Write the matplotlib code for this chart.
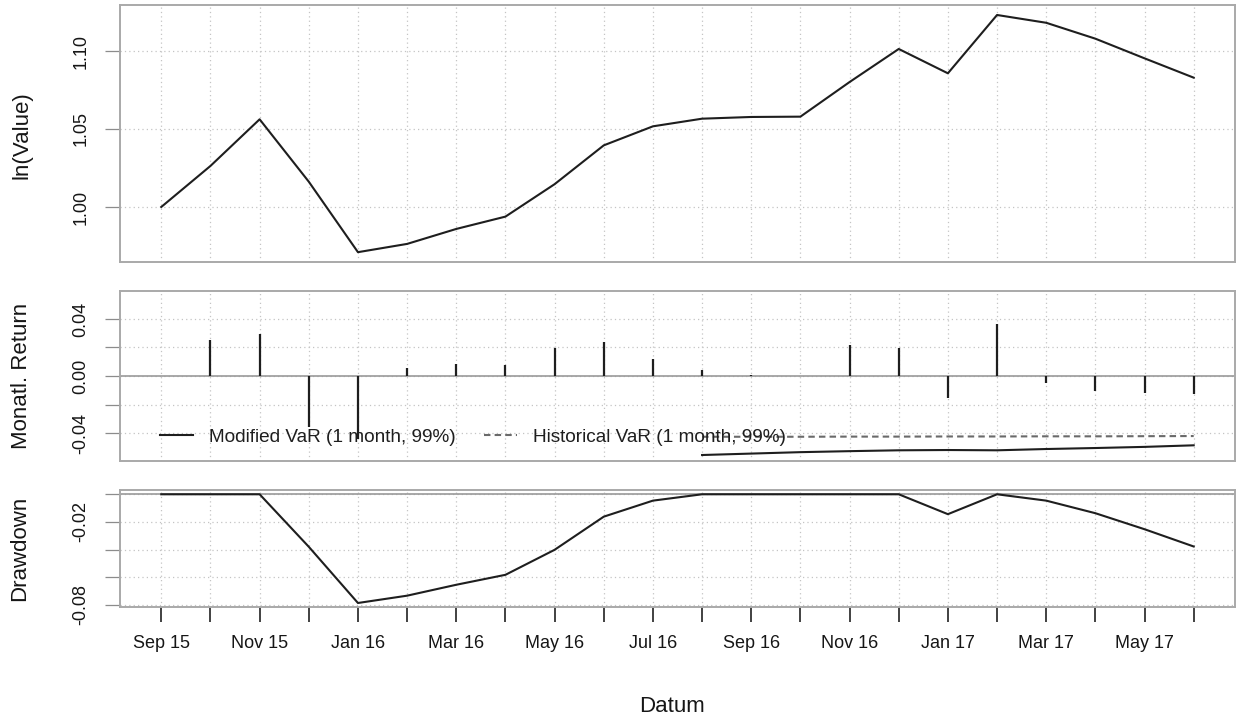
import matplotlib
matplotlib.use("Agg")
import matplotlib.pyplot as plt
import numpy as np

plt.rcParams['font.family'] = ['Liberation Sans', 'DejaVu Sans']

# ---- data -------------------------------------------------------------
months = ["Sep 15", "Oct 15", "Nov 15", "Dec 15", "Jan 16", "Feb 16", "Mar 16",
          "Apr 16", "May 16", "Jun 16", "Jul 16", "Aug 16", "Sep 16", "Oct 16",
          "Nov 16", "Dec 16", "Jan 17", "Feb 17", "Mar 17", "Apr 17", "May 17",
          "Jun 17"]

ln_value = [1.000, 1.0263, 1.0562, 1.0162, 0.9710, 0.9763, 0.9859, 0.9938,
            1.0146, 1.0395, 1.0517, 1.0566, 1.0577, 1.0579, 1.0801, 1.1013,
            1.0857, 1.1231, 1.1181, 1.1079, 1.0953, 1.0829]

# monthly returns start with the second month (Oct 15)
monthly_return = [0.0253, 0.0293, -0.0358, -0.0445, 0.0058, 0.0086, 0.0075,
                  0.0194, 0.0239, 0.0119, 0.0042, 0.0008, 0.0002, 0.0218,
                  0.0199, -0.0152, 0.0367, -0.0051, -0.0103, -0.0117, -0.0124]

# VaR estimates start in Aug 16
var_start = "Aug 16"
modified_var = [-0.0554, -0.0544, -0.0534, -0.0527, -0.0521, -0.0519, -0.0521,
                -0.0512, -0.0505, -0.0497, -0.0486]
historical_var = [-0.0426, -0.0426, -0.0426, -0.0425, -0.0425, -0.0424,
                  -0.0424, -0.0423, -0.0423, -0.0422, -0.0421]

drawdown = [0.0, 0.0, 0.0, -0.0380, -0.0787, -0.0734, -0.0655, -0.0583,
            -0.0402, -0.0162, -0.0046, 0.0, 0.0, 0.0, 0.0, 0.0, -0.0144, 0.0,
            -0.0046, -0.0137, -0.0253, -0.0378]

legend_labels = ["Modified VaR (1 month, 99%)", "Historical VaR (1 month, 99%)"]

# ---- figure -------------------------------------------------------------
W, H = 1236, 721
fig = plt.figure(figsize=(W / 100, H / 100), dpi=100)


def px_axes(left, top, right, bottom):
    return fig.add_axes([left / W, 1 - bottom / H, (right - left) / W, (bottom - top) / H])


ax1 = px_axes(120, 5, 1235, 262)
ax2 = px_axes(120, 291, 1235, 461)
ax3 = px_axes(120, 490, 1235, 607)

x = np.arange(len(months))
line_col = '#1e1e1e'
grid_col = '#c4c4c4'
box_col = '#a9a9a9'

for ax in (ax1, ax2, ax3):
    ax.set_xlim(-0.84, len(months) - 1 + 0.84)
    ax.set_xticks(x)
    for s in ax.spines.values():
        s.set_color(box_col)
        s.set_linewidth(1.4)
    ax.grid(True, ls=(0, (1, 2.5)), color=grid_col, lw=0.9)
    ax.set_axisbelow(True)
    ax.tick_params(axis='y', length=10.5, width=0.9, color='#8c8c8c',
                   labelsize=13, labelcolor='#161616', labelrotation=90, pad=11.5)
    for lab in ax.get_yticklabels():
        lab.set_va('center')

for ax in (ax1, ax2):
    ax.tick_params(axis='x', length=0, labelbottom=False)

# cumulative value panel
ax1.plot(x, ln_value, color=line_col, lw=1.5)
ax1.set_ylim(0.9647, 1.1295)
ax1.set_yticks([1.00, 1.05, 1.10], ["1.00", "1.05", "1.10"])

# monthly return panel
ax2.axhline(0, color='#9a9a9a', lw=1.2, zorder=1)
ax2.vlines(x[1:], 0, monthly_return, color=line_col, lw=1.6, zorder=3)
i0 = months.index(var_start)
l_mod, = ax2.plot(x[i0:], modified_var, color=line_col, lw=1.5, zorder=3)
l_hist, = ax2.plot(x[i0:], historical_var, color='#6a6a6a', lw=1.5,
                   ls=(0, (3.1, 2)), zorder=3)
ax2.set_ylim(-0.0596, 0.0596)
ax2.set_yticks([-0.04, -0.02, 0.0, 0.02, 0.04], ["-0.04", "", "0.00", "", "0.04"])
leg = ax2.legend([l_mod, l_hist], legend_labels, ncol=2, frameon=False,
                 loc='center left', bbox_to_anchor=(40 / 1115, 24 / 170),
                 borderpad=0, borderaxespad=0, handlelength=1.74,
                 handletextpad=0.84, columnspacing=1.5, fontsize=13.7,
                 labelcolor='#1e1e1e')

# drawdown panel
ax3.axhline(0, color='#9a9a9a', lw=1.2, zorder=1)
ax3.plot(x, drawdown, color=line_col, lw=1.5, zorder=3)
ax3.set_ylim(-0.0816, 0.0031)
ax3.set_yticks([0.0, -0.02, -0.04, -0.06, -0.08], ["", "-0.02", "", "", "-0.08"])
ax3.set_xticklabels([m if i % 2 == 0 else "" for i, m in enumerate(months)])
ax3.tick_params(axis='x', length=10.5, width=1.3, color='#333333',
                labelsize=13, labelcolor='#161616', pad=10)

# axis titles
fig.text(22 / W, 1 - 135 / H, "ln(Value)", rotation=90, ha='center', va='center',
         fontsize=16, color='#161616')
fig.text(22 / W, 1 - 376 / H, "Monatl. Return", rotation=90, ha='center',
         va='center', fontsize=16, color='#161616')
fig.text(20 / W, 1 - 548.5 / H, "Drawdown", rotation=90, ha='center', va='center',
         fontsize=16, color='#161616')
fig.text(672 / W, 1 - 707 / H, "Datum", ha='center', va='center', fontsize=16,
         color='#161616')

fig.savefig("out.png", dpi=100, facecolor='white')
